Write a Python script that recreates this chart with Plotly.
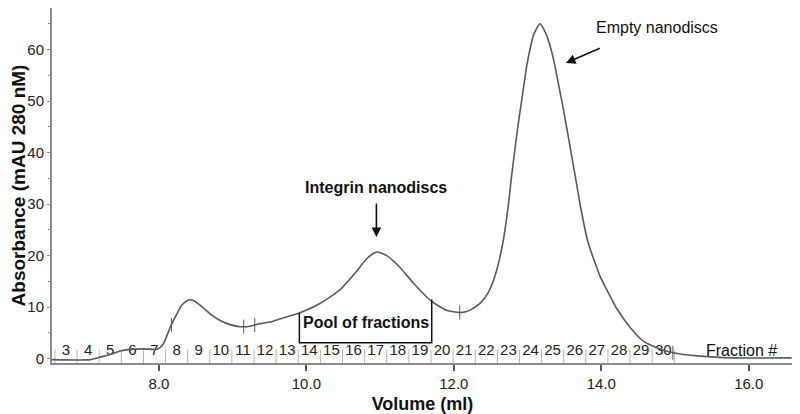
import numpy as np
import plotly.graph_objects as go

# chromatogram trace (volume in ml, absorbance in mAU)
volume = [6.55, 7.07, 7.205, 7.34, 7.476, 7.61, 7.787, 7.977, 8.058, 8.153, 8.244,
          8.312, 8.401, 8.469, 8.583, 8.695, 8.83, 8.966, 9.10, 9.237, 9.37, 9.508,
          9.64, 9.913, 10.185, 10.457, 10.683, 10.818, 10.954, 11.09, 11.27, 11.45,
          11.70, 11.90, 12.083, 12.152, 12.219, 12.355, 12.463, 12.558, 12.667, 12.735,
          12.782, 12.866, 12.920, 12.988, 13.033, 13.078, 13.169, 13.26, 13.318,
          13.373, 13.417, 13.463, 13.531, 13.657, 13.72, 13.819, 13.982, 14.05,
          14.209, 14.389, 14.565, 14.751, 14.972, 15.338, 15.786, 16.582]
absorbance = [-0.2, -0.2, 0.3, 0.8, 1.5, 1.8, 1.9, 1.8, 2.8, 6.1, 8.7,
              10.4, 11.4, 11.3, 10.1, 8.7, 7.4, 6.6, 6.2, 6.3, 6.8, 7.1,
              7.7, 8.9, 10.7, 13.4, 17.0, 19.4, 20.7, 20.0, 17.7, 14.7,
              11.1, 9.4, 8.95, 9.08, 9.42, 10.73, 12.72, 16.03, 22.65, 29.35,
              35.31, 44.84, 50.15, 56.77, 60.08, 62.73, 65.05, 62.73, 60.08,
              56.77, 53.45, 50.15, 44.84, 34.57, 29.35, 22.65, 16.03, 14.05,
              9.74, 6.1, 3.46, 2.13, 1.13, 0.48, 0.14, 0.14]

# fraction collector
fractions = list(range(3, 31))
fraction_start_ml = 6.59
fraction_width_ml = 0.3

# small event marks on the trace
event_marks = [8.17, 9.15, 9.30, 12.08, 14.97]

# pooled fractions 14-19
pool_range = [9.905, 11.70]

edges = fraction_start_ml + fraction_width_ml * np.arange(len(fractions) + 1)
centres = (edges[:-1] + edges[1:]) / 2

fig = go.Figure()

# fraction dividers
dx, dy = [], []
for e in edges:
    dx += [e, e, None]
    dy += [-0.9, 1.8, None]
fig.add_trace(go.Scatter(x=dx, y=dy, mode="lines",
                         line=dict(color="#b4b4b4", width=1), hoverinfo="skip"))

fig.add_trace(go.Scatter(x=centres, y=[1.35] * len(fractions), mode="text",
                         text=[str(f) for f in fractions],
                         textfont=dict(size=15, color="#222222"),
                         hoverinfo="skip"))

fig.add_trace(go.Scatter(x=volume, y=absorbance, mode="lines",
                         line=dict(color="#5a5a5a", width=1.6, shape="spline", smoothing=0.6)))

fig.add_trace(go.Scatter(x=event_marks, y=np.interp(event_marks, volume, absorbance),
                         mode="markers",
                         marker=dict(symbol="line-ns", size=10,
                                     line=dict(color="#5a5a5a", width=1)),
                         hoverinfo="skip"))

# pool box: two legs from the trace down to a baseline
y_left = float(np.interp(pool_range[0], volume, absorbance))
y_right = float(np.interp(pool_range[1], volume, absorbance))
fig.add_trace(go.Scatter(x=[pool_range[0], pool_range[0], pool_range[1], pool_range[1]],
                         y=[y_left, 3.1, 3.1, y_right + 0.4], mode="lines",
                         line=dict(color="#111111", width=1.5), hoverinfo="skip"))

fig.add_annotation(x=sum(pool_range) / 2, y=7.1, text="<b>Pool of fractions</b>",
                   showarrow=False, font=dict(size=16, color="#111111"))
fig.add_annotation(x=10.95, y=33.3, text="<b>Integrin nanodiscs</b>",
                   showarrow=False, font=dict(size=16, color="#111111"))
fig.add_annotation(x=10.95, y=23.6, ax=10.95, ay=30.4, axref="x", ayref="y",
                   text="", showarrow=True, arrowhead=2, arrowsize=1.2,
                   arrowwidth=1.6, arrowcolor="#111111")
fig.add_annotation(x=14.75, y=64.4, text="Empty nanodiscs",
                   showarrow=False, font=dict(size=16, color="#111111"))
fig.add_annotation(x=13.52, y=57.4, ax=14.0, ay=60.4, axref="x", ayref="y",
                   text="", showarrow=True, arrowhead=2, arrowsize=1.2,
                   arrowwidth=1.6, arrowcolor="#111111")
fig.add_annotation(x=15.9, y=1.5, text="Fraction #",
                   showarrow=False, font=dict(size=16, color="#111111"))

# the page puts the figure 8px in from the top-left corner
fig.update_layout(
    autosize=False,
    width=792,
    height=406,
    margin=dict(l=44, r=7, t=0, b=51),
    paper_bgcolor="white",
    plot_bgcolor="white",
    showlegend=False,
    font=dict(family="Liberation Sans, Arial", color="#222222"),
    xaxis=dict(
        range=[6.55, 16.6],
        automargin=False,
        tickvals=[8, 10, 12, 14, 16],
        ticktext=["8.0", "10.0", "12.0", "14.0", "16.0"],
        ticks="outside", ticklen=6, tickwidth=2, tickcolor="#555555",
        showline=True, linecolor="#8c8c8c", linewidth=2,
        showgrid=False, zeroline=False,
        tickfont=dict(size=15),
        title=dict(text="<b>Volume (ml)</b>", font=dict(size=18, color="#111111"), standoff=10),
    ),
    yaxis=dict(
        range=[-0.85, 68.1],
        automargin=False,
        tickvals=[0, 10, 20, 30, 40, 50, 60],
        ticks="outside", ticklen=3, tickwidth=1, tickcolor="#8c8c8c",
        minor=dict(dtick=5, ticks="outside", ticklen=2, tickcolor="#8c8c8c"),
        showline=True, linecolor="#8c8c8c", linewidth=2,
        showgrid=False, zeroline=False,
        tickfont=dict(size=15),
        title=dict(text="<b>Absorbance (mAU 280 nM)</b>", font=dict(size=19, color="#111111"), standoff=2),
    ),
)

fig.write_html("out.html")
